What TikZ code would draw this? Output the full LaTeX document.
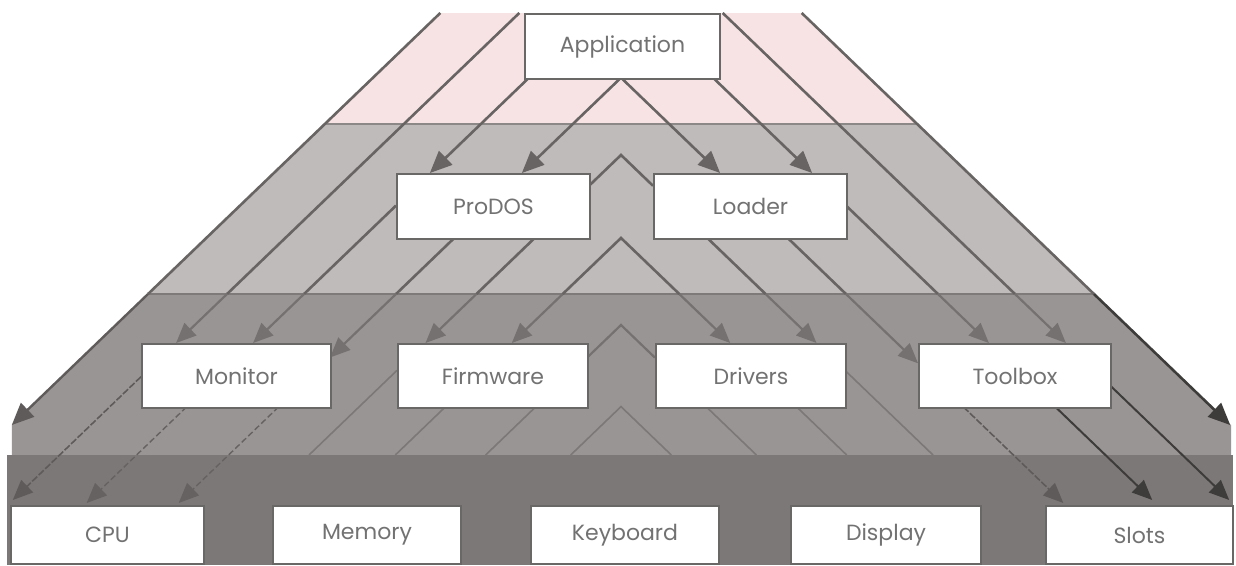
\documentclass[tikz,border=0pt]{standalone}
\usepackage{fontspec}
\setmainfont{Poppins}
\usetikzlibrary{arrows.meta}
\definecolor{pinkfill}{HTML}{F7E3E3}
\definecolor{lgray}{HTML}{BFBBBA}
\definecolor{mgray}{HTML}{999594}
\definecolor{dgray}{HTML}{7C7877}
\definecolor{linecol}{HTML}{676463}
\definecolor{lthree}{HTML}{757170}
\definecolor{faintcol}{HTML}{7C7877}
\definecolor{barline}{HTML}{656261}
\definecolor{darkcol}{HTML}{3E3C3B}
\definecolor{medcol}{HTML}{5E5B5A}
\definecolor{edgecol}{HTML}{8C8887}
\definecolor{boxcol}{HTML}{6A6867}
\definecolor{txtcol}{HTML}{727272}
\newcommand{\segL}[4]{\draw[#1] ({#2-1.04*(#3-245)},#3) -- ({#2-1.04*(#4-245)},#4);}
\newcommand{\segR}[4]{\draw[#1] ({#2+1.04*(#3-245)},#3) -- ({#2+1.04*(#4-245)},#4);}
\tikzset{
  ln/.style={draw=linecol, line width=2.6pt},
  lnthree/.style={draw=lthree, line width=2.2pt},
  fnt/.style={draw=faintcol, line width=1.6pt},
  fntb/.style={draw=barline, line width=1.4pt, dash pattern=on 6pt off 3pt},
  dk/.style={draw=darkcol, line width=2pt},
  md/.style={draw=medcol, line width=1.6pt, dash pattern=on 7pt off 2pt},
  ahd/.style={-{Triangle[length=22pt,width=19pt]}},
  ahs/.style={-{Triangle[length=20pt,width=17pt]}},
  box/.style={draw=boxcol, line width=2pt, fill=white, text=txtcol,
    font=\fontsize{22}{25}\selectfont, inner sep=0pt, anchor=north west},
}
\begin{document}
\begin{tikzpicture}[x=1pt,y=-1pt]
\useasboundingbox (0,0) rectangle (1236,565);
\fill[white] (0,0) rectangle (1236,565);
% layers
\fill[pinkfill] (440.3,13) -- (801.7,13) -- (917.2,124) -- (324.8,124) -- cycle;
\fill[lgray] (324.8,124) -- (917.2,124) -- (1094,294) -- (148,294) -- cycle;
\fill[mgray] (148,294) -- (11.8,425) -- (11.8,455) -- (1231,455) -- (1231,425) -- (1094,294) -- cycle;
\fill[dgray] (7,455) rectangle (1233,565);
\draw[edgecol, line width=1.6pt] (324.8,124) -- (917.2,124);
\draw[edgecol!90!black, line width=1.2pt] (148,294) -- (1094,294);
% ---- left family ----
\segL{ln}{199}{13}{294}
\segL{draw=medcol, line width=2.4pt, ahd}{199}{294}{425}
\segL{ln}{278}{13}{294}
\segL{lnthree, ahs}{278}{294}{343}
\segL{md, ahs}{278}{376.7}{500}
\segL{ln, ahd}{355}{78}{173}
\segL{ln}{355}{205.6}{294}
\segL{lnthree, ahs}{355}{294}{343}
\segL{fntb, ahs}{355}{407}{503}
\segL{ln, ahd}{447}{78}{173}
\segL{ln}{447}{238}{294}
\segL{lnthree, ahs}{447}{294}{357.5}
\segL{fntb, ahs}{447}{407}{503}
\segL{ln}{527.4}{238}{294}
\segL{lnthree, ahs}{527.4}{294}{343}
\segL{fnt}{527.4}{370.4}{455}
\segL{lnthree, ahs}{613.7}{294}{343}
\segL{fnt}{613.7}{407}{455}
\segL{fnt}{704}{407}{455}
% ---- right family ----
\segR{ln}{1043}{13}{294}
\segR{dk, line width=2.6pt, ahd}{1043}{294}{425}
\segR{ln}{964}{13}{294}
\segR{lnthree, ahs}{964}{294}{343}
\segR{dk, ahs}{964}{385.4}{500}
\segR{ln, ahd}{887}{78}{173}
\segR{ln}{887}{205.6}{294}
\segR{lnthree, ahs}{887}{294}{343}
\segR{dk, ahs}{887}{407}{500}
\segR{ln, ahd}{795}{78}{173}
\segR{ln}{795}{238}{294}
\segR{lnthree, ahs}{795}{294}{363.3}
\segR{md, ahs}{795}{407}{503}
\segR{ln}{714.6}{238}{294}
\segR{lnthree, ahs}{714.6}{294}{343}
\segR{fnt}{714.6}{370.4}{455}
\segR{lnthree, ahs}{628.3}{294}{343}
\segR{fnt}{628.3}{407}{455}
\segR{fnt}{538}{407}{455}
% chevrons
\draw[ln] (589,185.8) -- (621,155) -- (653,185.8);
\draw[ln] (562.7,294) -- (621,238) -- (679.3,294);
\draw[lnthree] (587,357.7) -- (621,325) -- (655,357.7);
\draw[fnt] (570.7,455) -- (621,406.6) -- (671.3,455);
% boxes
\node[box, minimum width=195pt, minimum height=65pt] (app) at (524,13) {Application};
\node[box, minimum width=193pt, minimum height=65pt] (prodos) at (396,173) {ProDOS};
\node[box, minimum width=193pt, minimum height=65pt] (loader) at (653,173) {Loader};
\node[box, minimum width=189pt, minimum height=64pt] (monitor) at (141,343) {Monitor};
\node[box, minimum width=190pt, minimum height=64pt] (firmware) at (397,343) {Firmware};
\node[box, minimum width=190pt, minimum height=64pt] (drivers) at (655,343) {Drivers};
\node[box, minimum width=192pt, minimum height=64pt] (toolbox) at (918,343) {Toolbox};
\node[box, minimum width=193pt, minimum height=58pt] (cpu) at (10,505) {CPU};
\node[box, minimum width=188pt, minimum height=58pt] (memory) at (272,505) {Memory};
\node[box, minimum width=188pt, minimum height=58pt] (keyboard) at (530,505) {Keyboard};
\node[box, minimum width=190pt, minimum height=58pt] (display) at (790,505) {Display};
\node[box, minimum width=187pt, minimum height=58pt] (slots) at (1045,505) {Slots};
\end{tikzpicture}
\end{document}
